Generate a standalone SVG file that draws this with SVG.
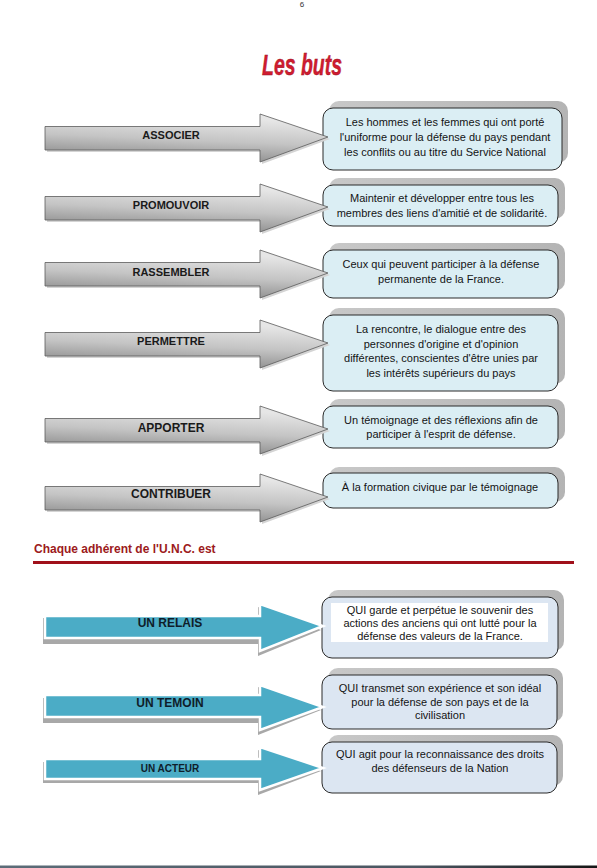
<svg xmlns="http://www.w3.org/2000/svg" width="597" height="868" viewBox="0 0 597 868">
<defs>
<linearGradient id="gArrow" x1="0" y1="1" x2="0.25" y2="0">
<stop offset="0" stop-color="#7c7c7c"/>
<stop offset="0.55" stop-color="#c4c4c4"/>
<stop offset="1" stop-color="#e6e6e6"/>
</linearGradient>
<linearGradient id="gShadow" x1="0" y1="0" x2="1" y2="0">
<stop offset="0" stop-color="#c8c8c8"/>
<stop offset="1" stop-color="#b4b4b4"/>
</linearGradient>
<linearGradient id="gBottom" x1="0" y1="0" x2="1" y2="0">
<stop offset="0" stop-color="#5c6c78"/>
<stop offset="0.7" stop-color="#4a5560"/>
<stop offset="1" stop-color="#151515"/>
</linearGradient>
</defs>
<style>
.lbl{font-family:"Liberation Sans",Arial,sans-serif;font-weight:bold;fill:#1a1a1a;text-anchor:middle}
.blbl{font-family:"Liberation Sans",Arial,sans-serif;font-weight:bold;fill:#0f1d2a;text-anchor:middle}
.txt{font-family:"Liberation Sans",Arial,sans-serif;font-size:11px;fill:#141414;text-anchor:middle}
.box{fill:#dbeef4;stroke:#2a2a2a;stroke-width:1}
.bbox{fill:#dce6f2;stroke:#2a2a2a;stroke-width:1}
.shd{fill:url(#gShadow)}
.garrow{fill:url(#gArrow);stroke:#5a5a5a;stroke-width:0.8}
.gshd{fill:#d4d4d4}
.barrow{fill:#4bacc6;stroke:#ffffff;stroke-width:2.5;stroke-linejoin:miter}
.bshd{fill:#a8a8a8}
</style>
<rect width="597" height="868" fill="#ffffff"/>
<text x="302" y="7" font-family="Liberation Sans,Arial,sans-serif" font-size="8" fill="#333" text-anchor="middle">6</text>
<text x="302" y="75" font-family="Liberation Sans,Arial,sans-serif" font-size="29" font-weight="bold" font-style="italic" fill="#d01c30" stroke="#9a1020" stroke-width="0.4" text-anchor="middle" textLength="80" lengthAdjust="spacingAndGlyphs">Les buts</text>

<!-- boxes (top section) -->
<g id="box-associer">
<rect class="shd" x="329" y="101" width="239" height="62" rx="10"/>
<rect class="box" x="323" y="108" width="239" height="62" rx="10"/>
<text class="txt" x="445" y="126">Les hommes et les femmes qui ont porté</text>
<text class="txt" x="445" y="141">l'uniforme pour la défense du pays pendant</text>
<text class="txt" x="445" y="156">les conflits ou au titre du Service National</text>
</g>
<g id="box-promouvoir">
<rect class="shd" x="329" y="178" width="236" height="41" rx="10"/>
<rect class="box" x="323" y="185" width="235" height="41" rx="10"/>
<text class="txt" x="442" y="202">Maintenir et développer entre tous les</text>
<text class="txt" x="442" y="217">membres des liens d'amitié et de solidarité.</text>
</g>
<g id="box-rassembler">
<rect class="shd" x="329" y="243" width="236" height="48" rx="10"/>
<rect class="box" x="323" y="250" width="235" height="48" rx="10"/>
<text class="txt" x="441" y="268">Ceux qui peuvent participer à la défense</text>
<text class="txt" x="441" y="283">permanente de la France.</text>
</g>
<g id="box-permettre">
<rect class="shd" x="329" y="308" width="236" height="76" rx="10"/>
<rect class="box" x="323" y="315" width="235" height="76" rx="10"/>
<text class="txt" x="441" y="333">La rencontre, le dialogue entre des</text>
<text class="txt" x="441" y="348">personnes d'origine et d'opinion</text>
<text class="txt" x="441" y="362">différentes, conscientes d'être unies par</text>
<text class="txt" x="441" y="377">les intérêts supérieurs du pays</text>
</g>
<g id="box-apporter">
<rect class="shd" x="329" y="399" width="236" height="42" rx="10"/>
<rect class="box" x="323" y="406" width="235" height="42" rx="10"/>
<text class="txt" x="441" y="424">Un témoignage et des réflexions afin de</text>
<text class="txt" x="441" y="438">participer à l'esprit de défense.</text>
</g>
<g id="box-contribuer">
<rect class="shd" x="329" y="467" width="236" height="35" rx="10"/>
<rect class="box" x="323" y="473" width="235" height="35" rx="10"/>
<text class="txt" x="440" y="491">À la formation civique par le témoignage</text>
</g>

<!-- grey arrows -->
<g id="arrow-associer">
<path class="gshd" d="M47,129 H262 V116 L330,139 L262,164 V152 H47 Z"/>
<path class="garrow" d="M45,126.5 H260 V114 L328,137 L260,162 V150 H45 Z"/>
<text class="lbl" x="171" y="139" font-size="11">ASSOCIER</text>
</g>
<g id="arrow-promouvoir">
<path class="gshd" d="M47,199 H262 V186 L330,209 L262,234 V222 H47 Z"/>
<path class="garrow" d="M45,196.5 H260 V184 L328,207 L260,232 V220 H45 Z"/>
<text class="lbl" x="171" y="209" font-size="11">PROMOUVOIR</text>
</g>
<g id="arrow-rassembler">
<path class="gshd" d="M47,265 H262 V252 L330,275 L262,300 V288 H47 Z"/>
<path class="garrow" d="M45,262.5 H260 V250 L328,273 L260,298 V286 H45 Z"/>
<text class="lbl" x="171" y="276" font-size="11">RASSEMBLER</text>
</g>
<g id="arrow-permettre">
<path class="gshd" d="M47,335 H262 V322 L330,345 L262,370 V358 H47 Z"/>
<path class="garrow" d="M45,332.5 H260 V320 L328,343 L260,368 V356 H45 Z"/>
<text class="lbl" x="171" y="345" font-size="11">PERMETTRE</text>
</g>
<g id="arrow-apporter">
<path class="gshd" d="M47,421 H262 V408 L330,431 L262,456 V444 H47 Z"/>
<path class="garrow" d="M45,418.5 H260 V406 L328,429 L260,454 V442 H45 Z"/>
<text class="lbl" x="171" y="432" font-size="12">APPORTER</text>
</g>
<g id="arrow-contribuer">
<path class="gshd" d="M47,489 H262 V476 L330,499 L262,524 V512 H47 Z"/>
<path class="garrow" d="M45,486.5 H260 V474 L328,497 L260,522 V510 H45 Z"/>
<text class="lbl" x="171" y="498" font-size="12">CONTRIBUER</text>
</g>

<!-- section heading -->
<g id="heading">
<text x="34" y="553" font-family="Liberation Sans,Arial,sans-serif" font-size="12" font-weight="bold" fill="#9c1a20">Chaque adhérent de l'U.N.C. est</text>
<line x1="33" y1="562.5" x2="574" y2="562.5" stroke="#a0101a" stroke-width="3"/>
</g>

<!-- blue boxes -->
<g id="box-relais">
<rect class="shd" x="328" y="590" width="236" height="61" rx="10"/>
<rect class="bbox" x="322" y="597" width="236" height="61" rx="10"/>
<rect x="331" y="603" width="217" height="39" fill="#ffffff"/>
<text class="txt" x="440" y="614">QUI garde et perpétue le souvenir des</text>
<text class="txt" x="440" y="627">actions des anciens qui ont lutté pour la</text>
<text class="txt" x="440" y="640">défense des valeurs de la France.</text>
</g>
<g id="box-temoin">
<rect class="shd" x="328" y="668" width="235" height="54" rx="10"/>
<rect class="bbox" x="322" y="675" width="235" height="54" rx="10"/>
<text class="txt" x="440" y="692">QUI transmet son expérience et son idéal</text>
<text class="txt" x="440" y="706">pour la défense de son pays et de la</text>
<text class="txt" x="440" y="719">civilisation</text>
</g>
<g id="box-acteur">
<rect class="shd" x="328" y="735" width="235" height="51" rx="10"/>
<rect class="bbox" x="322" y="742" width="235" height="51" rx="10"/>
<text class="txt" x="440" y="758">QUI agit pour la reconnaissance des droits</text>
<text class="txt" x="440" y="772">des défenseurs de la Nation</text>
</g>

<!-- blue arrows -->
<g id="arrow-relais">
<path class="bshd" d="M43,618 H258 V607 L321,630 L258,656 V644 H43 Z"/>
<path class="barrow" d="M45,616 H260 V604 L323,626 L260,651 V638 H45 Z"/>
<text class="blbl" x="170" y="627" font-size="12">UN RELAIS</text>
</g>
<g id="arrow-temoin">
<path class="bshd" d="M43,698 H258 V687 L321,710 L258,735 V723 H43 Z"/>
<path class="barrow" d="M45,695 H260 V685 L323,707 L260,730 V717 H45 Z"/>
<text class="blbl" x="170" y="707" font-size="12">UN TEMOIN</text>
</g>
<g id="arrow-acteur">
<path class="bshd" d="M43,762 H258 V750 L321,771 L258,795 V783 H43 Z"/>
<path class="barrow" d="M45,759 H260 V747 L323,768 L260,790 V779 H45 Z"/>
<text class="blbl" x="170" y="772" font-size="10">UN ACTEUR</text>
</g>

<g id="connectors"></g>
<rect x="0" y="865.5" width="597" height="2.5" fill="url(#gBottom)"/>
</svg>
